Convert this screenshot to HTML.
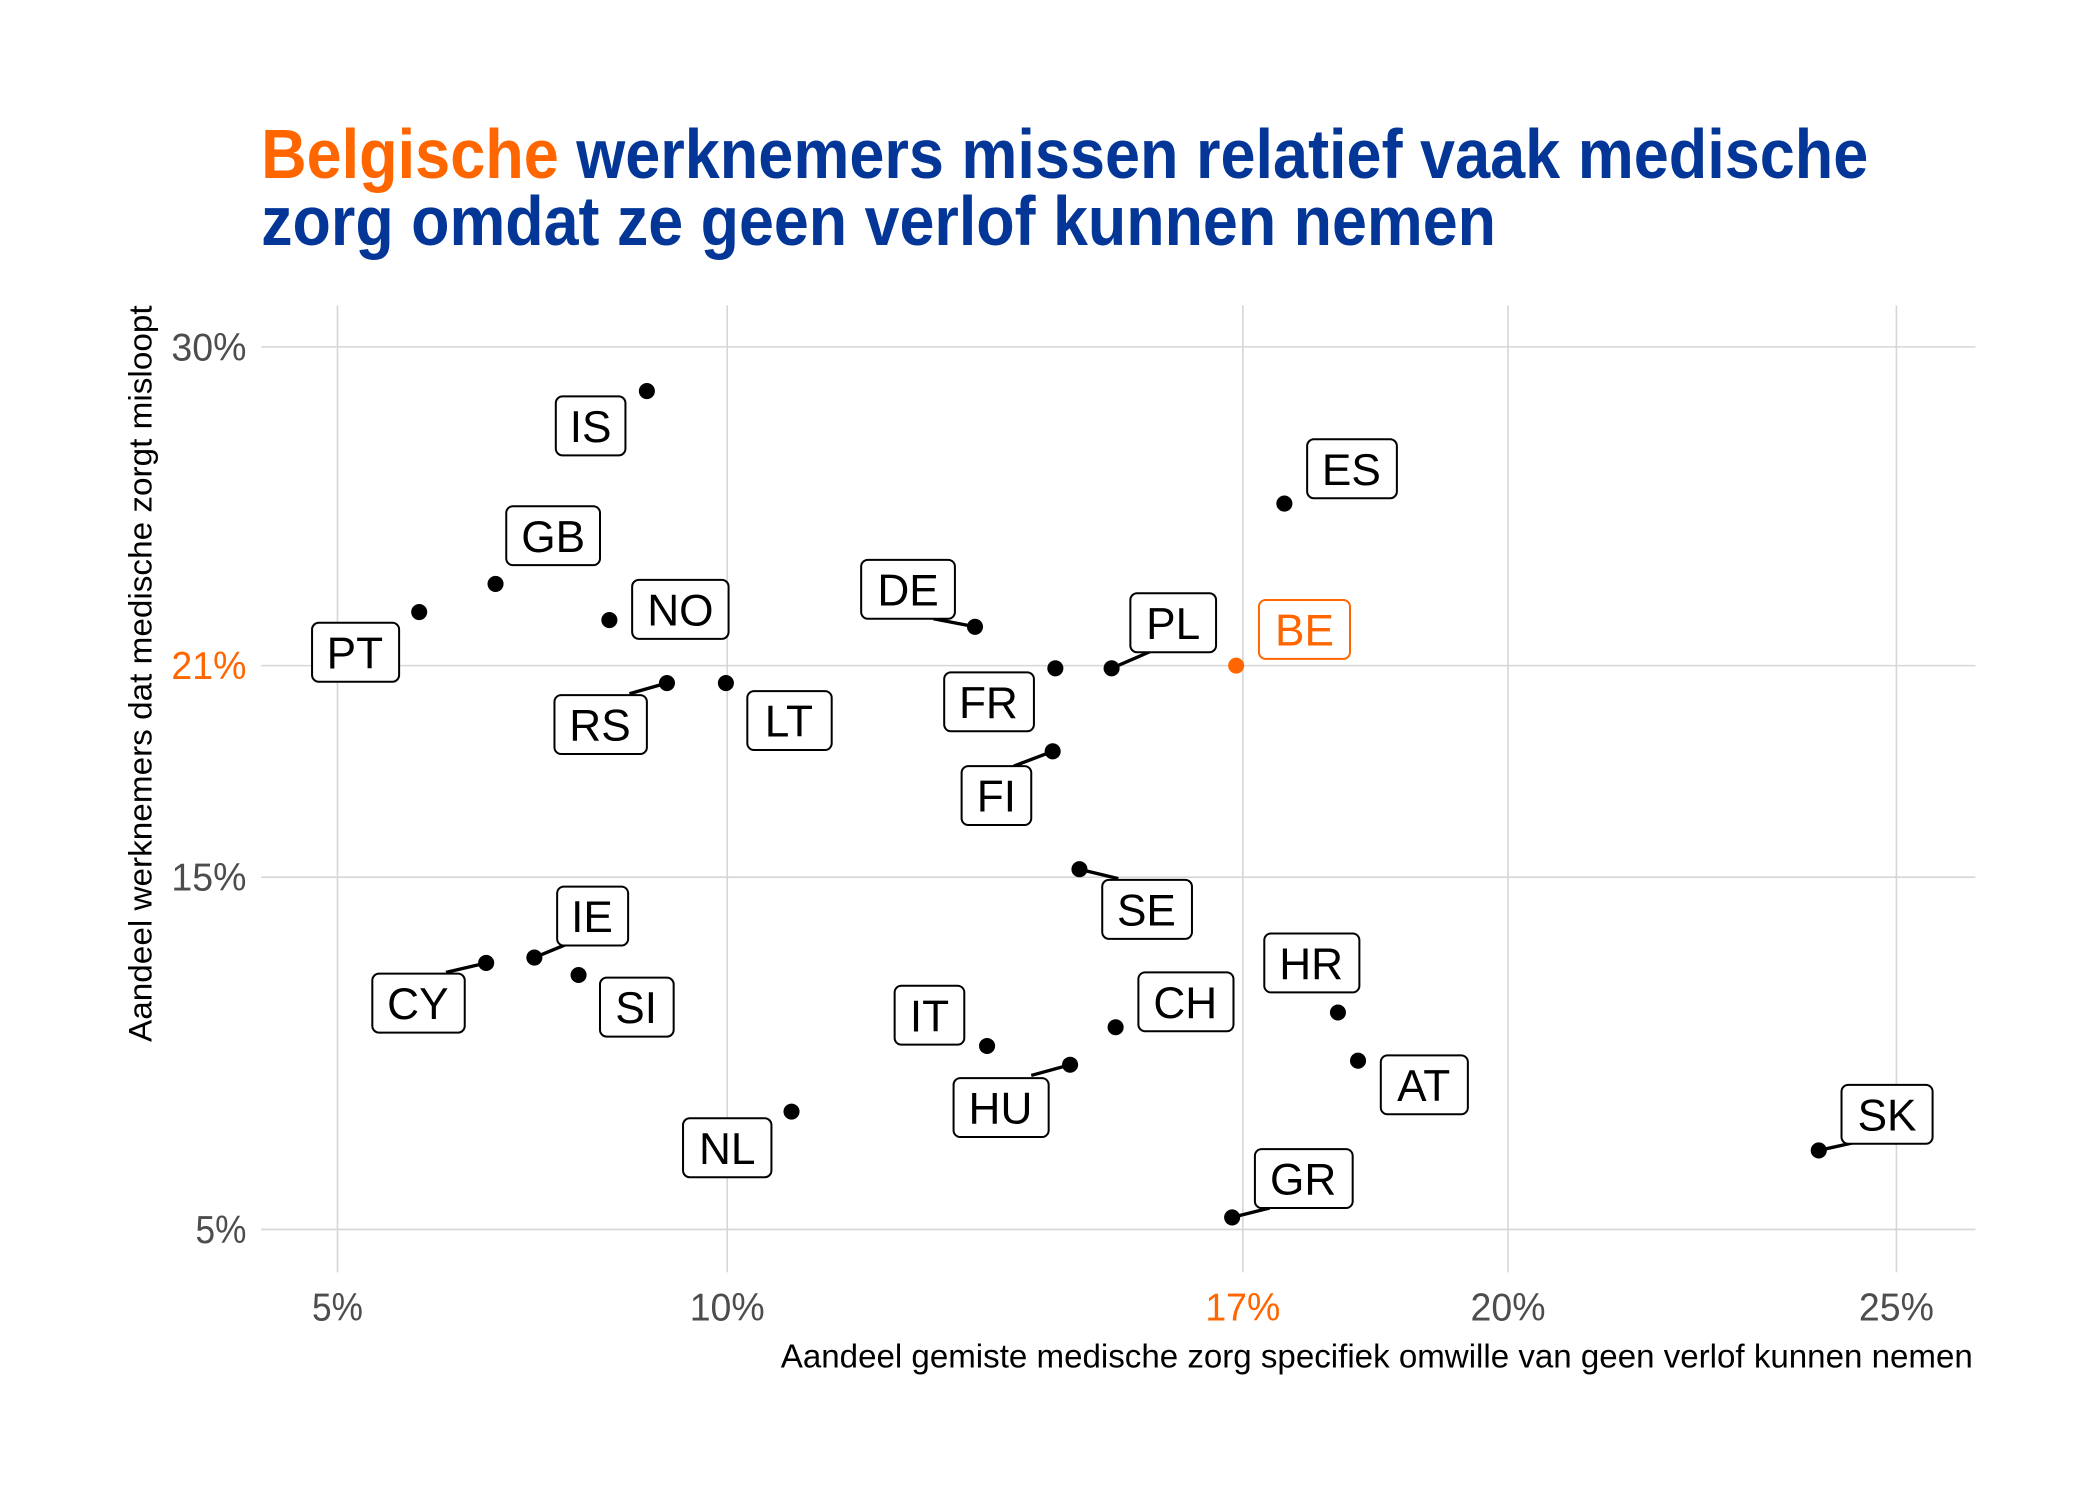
<!DOCTYPE html>
<html><head><meta charset="utf-8"><style>
html,body{margin:0;padding:0;background:#fff;}
svg{display:block;}
</style></head><body>
<svg width="2100" height="1500" viewBox="0 0 1568 1120" xmlns="http://www.w3.org/2000/svg">
<rect width="1568" height="1120" fill="#fff"/>
<g stroke="#d6d6d6" stroke-width="1.2">
<line x1="252" y1="228" x2="252" y2="950"/>
<line x1="543" y1="228" x2="543" y2="950"/>
<line x1="928" y1="228" x2="928" y2="950"/>
<line x1="1126" y1="228" x2="1126" y2="950"/>
<line x1="1416" y1="228" x2="1416" y2="950"/>
<line x1="195" y1="259" x2="1475" y2="259"/>
<line x1="195" y1="497" x2="1475" y2="497"/>
<line x1="195" y1="655" x2="1475" y2="655"/>
<line x1="195" y1="918" x2="1475" y2="918"/>
</g>
<g font-family="'Liberation Sans',sans-serif" font-size="29" fill="#4d4d4d" lengthAdjust="spacingAndGlyphs">
<text x="184" y="269" text-anchor="end" textLength="56" lengthAdjust="spacingAndGlyphs">30%</text>
<text x="184" y="507" text-anchor="end" fill="#ff6600" textLength="56" lengthAdjust="spacingAndGlyphs">21%</text>
<text x="184" y="665" text-anchor="end" textLength="56" lengthAdjust="spacingAndGlyphs">15%</text>
<text x="184" y="928" text-anchor="end" textLength="38" lengthAdjust="spacingAndGlyphs">5%</text>
<text x="252" y="986" text-anchor="middle" textLength="38" lengthAdjust="spacingAndGlyphs">5%</text>
<text x="543" y="986" text-anchor="middle" textLength="56" lengthAdjust="spacingAndGlyphs">10%</text>
<text x="928" y="986" text-anchor="middle" fill="#ff6600" textLength="56" lengthAdjust="spacingAndGlyphs">17%</text>
<text x="1126" y="986" text-anchor="middle" textLength="56" lengthAdjust="spacingAndGlyphs">20%</text>
<text x="1416" y="986" text-anchor="middle" textLength="56" lengthAdjust="spacingAndGlyphs">25%</text>
</g>
<text x="583" y="1021" font-family="'Liberation Sans',sans-serif" font-size="25" fill="#000" textLength="890" lengthAdjust="spacingAndGlyphs">Aandeel gemiste medische zorg specifiek omwille van geen verlof kunnen nemen</text>
<text transform="translate(113,778) rotate(-90)" font-family="'Liberation Sans',sans-serif" font-size="24" fill="#000" textLength="550" lengthAdjust="spacingAndGlyphs">Aandeel werknemers dat medische zorgt misloopt</text>
<g font-family="'Liberation Sans',sans-serif" font-weight="bold" font-size="52" fill="#033696">
<text x="195" y="133" textLength="1200" lengthAdjust="spacingAndGlyphs"><tspan fill="#ff6600">Belgische</tspan> werknemers missen relatief vaak medische</text>
<text x="195" y="183" textLength="922" lengthAdjust="spacingAndGlyphs">zorg omdat ze geen verlof kunnen nemen</text>
</g>
<g stroke="#000" stroke-width="2.5">
<line x1="697" y1="462" x2="728" y2="468"/>
<line x1="860" y1="486" x2="830" y2="499"/>
<line x1="470" y1="518" x2="498" y2="510"/>
<line x1="757" y1="572" x2="786" y2="561"/>
<line x1="835" y1="656" x2="806" y2="649"/>
<line x1="428" y1="703" x2="399" y2="715"/>
<line x1="333" y1="726" x2="363" y2="719"/>
<line x1="770" y1="803" x2="799" y2="795"/>
<line x1="1385" y1="853" x2="1358" y2="859"/>
<line x1="948" y1="902" x2="920" y2="909"/>
</g>
<g fill="#000">
<circle cx="483" cy="292" r="6"/><circle cx="959" cy="376" r="6"/><circle cx="370" cy="436" r="6"/>
<circle cx="313" cy="457" r="6"/><circle cx="455" cy="463" r="6"/><circle cx="728" cy="468" r="6"/>
<circle cx="830" cy="499" r="6"/><circle cx="788" cy="499" r="6"/><circle cx="498" cy="510" r="6"/>
<circle cx="542" cy="510" r="6"/><circle cx="786" cy="561" r="6"/><circle cx="806" cy="649" r="6"/>
<circle cx="399" cy="715" r="6"/><circle cx="363" cy="719" r="6"/><circle cx="432" cy="728" r="6"/>
<circle cx="833" cy="767" r="6"/><circle cx="999" cy="756" r="6"/><circle cx="737" cy="781" r="6"/>
<circle cx="1014" cy="792" r="6"/><circle cx="799" cy="795" r="6"/><circle cx="591" cy="830" r="6"/>
<circle cx="1358" cy="859" r="6"/><circle cx="920" cy="909" r="6"/>
<circle cx="923" cy="497" r="6" fill="#ff6600"/>
</g>
<g font-family="'Liberation Sans',sans-serif" font-size="33" text-anchor="middle">
<g fill="#fff" stroke="#000" stroke-width="1.5">
<rect x="415" y="296" width="52" height="44" rx="5"/>
<rect x="976" y="328" width="67" height="44" rx="5"/>
<rect x="378" y="378" width="70" height="44" rx="5"/>
<rect x="233" y="465" width="65" height="44" rx="5"/>
<rect x="472" y="433" width="72" height="44" rx="5"/>
<rect x="643" y="418" width="70" height="44" rx="5"/>
<rect x="844" y="443" width="64" height="44" rx="5"/>
<rect x="705" y="502" width="67" height="44" rx="5"/>
<rect x="414" y="519" width="69" height="44" rx="5"/>
<rect x="558" y="516" width="63" height="44" rx="5"/>
<rect x="718" y="572" width="52" height="44" rx="5"/>
<rect x="823" y="657" width="67" height="44" rx="5"/>
<rect x="416" y="662" width="53" height="44" rx="5"/>
<rect x="278" y="727" width="69" height="44" rx="5"/>
<rect x="448" y="730" width="55" height="44" rx="5"/>
<rect x="850" y="726" width="71" height="44" rx="5"/>
<rect x="944" y="697" width="71" height="44" rx="5"/>
<rect x="668" y="736" width="52" height="44" rx="5"/>
<rect x="1031" y="788" width="65" height="44" rx="5"/>
<rect x="712" y="805" width="71" height="44" rx="5"/>
<rect x="510" y="835" width="66" height="44" rx="5"/>
<rect x="1375" y="810" width="68" height="44" rx="5"/>
<rect x="937" y="858" width="73" height="44" rx="5"/>
<rect x="940" y="448" width="68" height="44" rx="5" stroke="#ff6600"/>
</g>
<g fill="#000">
<text x="441" y="330">IS</text><text x="1009" y="362">ES</text><text x="413" y="412">GB</text>
<text x="265" y="499">PT</text><text x="508" y="467">NO</text><text x="678" y="452">DE</text>
<text x="876" y="477">PL</text><text x="738" y="536">FR</text><text x="448" y="553">RS</text>
<text x="589" y="550">LT</text><text x="744" y="606">FI</text><text x="856" y="691">SE</text>
<text x="442" y="696">IE</text><text x="312" y="761">CY</text><text x="475" y="764">SI</text>
<text x="885" y="760">CH</text><text x="979" y="731">HR</text><text x="694" y="770">IT</text>
<text x="1063" y="822">AT</text><text x="747" y="839">HU</text><text x="543" y="869">NL</text>
<text x="1409" y="844">SK</text><text x="973" y="892">GR</text>
<text x="974" y="482" fill="#ff6600">BE</text>
</g>
</g>
</svg>
</body></html>
